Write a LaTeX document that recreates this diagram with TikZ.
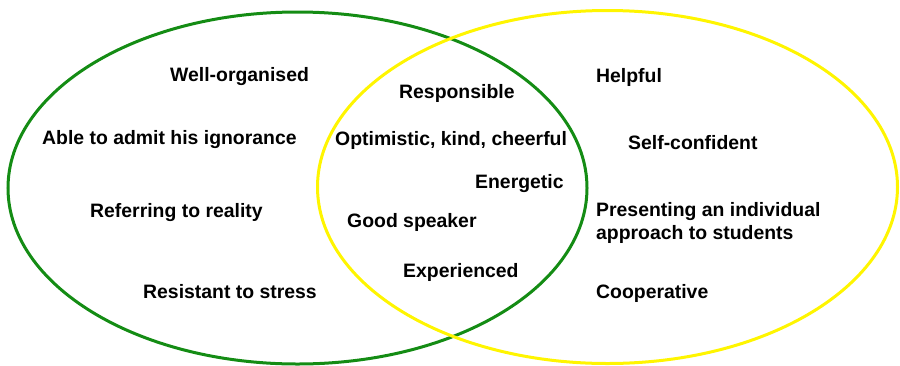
\documentclass[tikz,border=0pt]{standalone}
\usepackage{fontspec}
\setmainfont{Liberation Sans}
\definecolor{vgreen}{RGB}{20,140,20}
\definecolor{vyellow}{RGB}{255,245,0}
\tikzset{trait/.style={anchor=west,inner sep=0pt,font=\fontsize{19.4}{23}\selectfont\bfseries,align=left}}

\begin{document}
\begin{tikzpicture}[x=1pt,y=-1pt]
	\useasboundingbox (0,0) rectangle (900,365);
	\draw[vgreen,line width=3pt](297.5,188) ellipse (289.5 and 176);
	\draw[vyellow,line width=3pt](607.5,187) ellipse (290 and 176.5);
	% left only
	\node[trait] (org) at (170,77) {Well-organised};
	\node[trait] (admit) at (42,140) {Able to admit his ignorance};
	\node[trait] (reality) at (90,213) {Referring to reality};
	\node[trait] (stress) at (143,292) {Resistant to stress};
	% both
	\node[trait] (resp) at (399,93) {Responsible};
	\node[trait] (opt) at (335,140) {Optimistic, kind, cheerful};
	\node[trait] (energ) at (475,184) {Energetic};
	\node[trait] (speak) at (347,222) {Good speaker};
	\node[trait] (exper) at (403,272) {Experienced};
	% right only
	\node[trait] (help) at (596,77) {Helpful};
	\node[trait] (conf) at (628,143) {Self-confident};
	\node[trait] (indiv) at (596,223) {Presenting an individual\\approach to students};
	\node[trait] (coop) at (596,293) {Cooperative};
\end{tikzpicture}
\end{document}
